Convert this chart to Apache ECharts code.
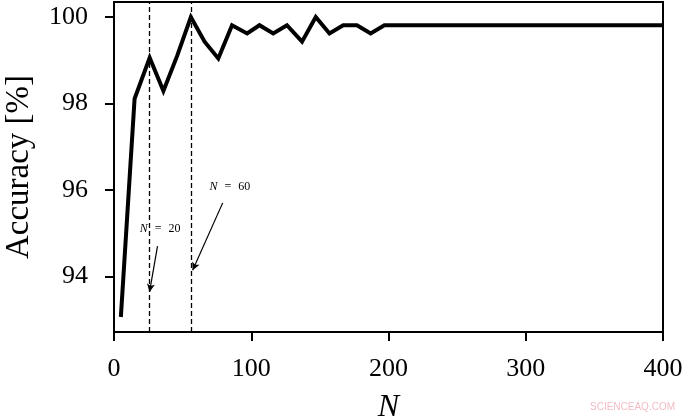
<!DOCTYPE html>
<html>
<head>
<meta charset="utf-8">
<script src="https://cdn.jsdelivr.net/npm/echarts@6/dist/echarts.min.js"></script>
<style>
html,body{margin:0;padding:0;background:#fff;}
#chart{width:685px;height:419px;}
</style>
</head>
<body>
<div id="chart"></div>
<script>
// Data
const nValues = [5, 15, 26, 36, 46, 56, 66, 76, 86, 97, 106, 116, 126, 137, 147, 157, 167, 177, 187, 197, 400];
const accuracy = [93.06, 98.11, 99.06, 98.29, 99.10, 100.00, 99.43, 99.04, 99.81, 99.62, 99.81, 99.62, 99.81, 99.43, 100.00, 99.62, 99.81, 99.81, 99.62, 99.81, 99.81];
const markerN = [25.4, 56];
const markerLabels = ['20', '60'];
const xTicks = [0, 100, 200, 300, 400];
const yTicks = [94, 96, 98, 100];

const chart = echarts.init(document.getElementById('chart'), null, {renderer: 'canvas'});
const serif = 'Liberation Serif';

const arrows = [
  [{coord: [31.7, 94.70]}, {coord: [25.9, 93.64]}],
  [{coord: [79.2, 95.70]}, {coord: [57.3, 94.14]}]
];
const labelPos = [[33.6, 95.10], [84.5, 96.08]];

chart.setOption({
  animation: false,
  backgroundColor: '#ffffff',
  grid: {left: 114, right: 22, top: 2, bottom: 87, show: true, borderColor: '#000', borderWidth: 2,
    backgroundColor: 'transparent', containLabel: false, outerBoundsMode: 'none'},
  xAxis: {
    type: 'value', min: 0, max: 400, interval: 100,
    name: 'N', nameLocation: 'middle', nameGap: 60,
    nameTextStyle: {fontFamily: serif, fontStyle: 'italic', fontSize: 32, color: '#000'},
    axisLine: {show: true, onZero: false, lineStyle: {color: '#000', width: 2}},
    axisTick: {show: true, length: 9, lineStyle: {color: '#000', width: 2}},
    axisLabel: {fontFamily: serif, fontSize: 26, color: '#000', margin: 24,
      formatter: v => xTicks.includes(v) ? String(v) : ''},
    splitLine: {show: false}
  },
  yAxis: {
    type: 'value', min: 92.713, max: 100.347,
    name: 'Accuracy [%]', nameLocation: 'middle', nameGap: 78, nameRotate: 90,
    nameTextStyle: {fontFamily: serif, fontSize: 33, color: '#000'},
    axisLine: {show: true, onZero: false, lineStyle: {color: '#000', width: 2}},
    axisTick: {show: true, length: 9, customValues: yTicks, lineStyle: {color: '#000', width: 2}},
    axisLabel: {fontFamily: serif, fontSize: 26, color: '#000', margin: 26, customValues: yTicks},
    splitLine: {show: false}
  },
  series: [{
    type: 'line',
    data: nValues.map((n, i) => [n, accuracy[i]]),
    showSymbol: false,
    symbol: 'none',
    lineStyle: {color: '#000', width: 4, join: 'miter'},
    clip: true,
    z: 3,
    markLine: {
      silent: true,
      symbol: ['none', 'none'],
      label: {show: false},
      lineStyle: {color: '#000', width: 1.3, type: [5, 3]},
      data: markerN.map(n => ({xAxis: n}))
    }
  }, {
    type: 'line',
    data: [],
    markLine: {
      silent: true,
      symbol: ['none', 'arrow'],
      symbolSize: [6, 8],
      label: {show: false},
      lineStyle: {color: '#000', width: 1.2, type: 'solid'},
      data: arrows
    },
    markPoint: {
      silent: true,
      symbol: 'circle', symbolSize: 0,
      label: {
        show: true, position: 'inside',
        fontFamily: serif, fontSize: 12, color: '#000',
        formatter: p => '{i|N}{e|=}' + p.name,
        rich: {
          i: {fontFamily: serif, fontStyle: 'italic', fontSize: 12, color: '#000'},
          e: {fontFamily: serif, fontSize: 12, color: '#000', padding: [0, 7, 0, 7]}
        }
      },
      data: markerLabels.map((t, i) => ({name: t, coord: labelPos[i]}))
    }
  }],
  graphic: [{
    type: 'text', left: 590, top: 402,
    style: {text: 'SCIENCEAQ.COM', fontFamily: 'Liberation Sans Narrow, Liberation Sans', fontSize: 10, fill: '#f2bcc4'}
  }]
});
</script>
</body>
</html>
